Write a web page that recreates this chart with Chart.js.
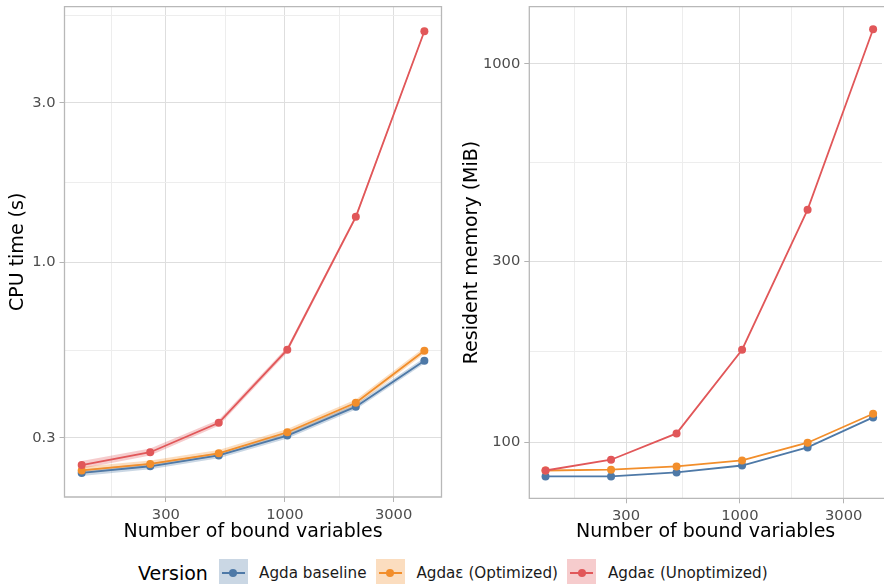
<!DOCTYPE html>
<html>
<head>
<meta charset="utf-8">
<script src="https://cdn.jsdelivr.net/npm/chart.js@4.4.0/dist/chart.umd.min.js"></script>
<style>
  html, body { margin: 0; padding: 0; background: #fff; overflow: hidden; }
  #wrap { position: relative; width: 886px; height: 584px; overflow: hidden; font-family: 'DejaVu Sans'; }
  #cpu { position: absolute; left: 0; top: 0; }
  #mem { position: absolute; left: 446px; top: 0; }
  #legend { position: absolute; left: 138px; top: 558.5px; height: 29px; display: flex; align-items: center; white-space: nowrap; }
  #legend .lt { font-size: 19px; margin-right: 10.7px; color: #000; }
  #legend .key { position: relative; width: 29px; height: 29px; flex: none; }
  #legend .key .ln { position: absolute; left: 3px; right: 3px; top: 13.6px; height: 1.8px; }
  #legend .key .dt { position: absolute; left: 10.5px; top: 10.5px; width: 8px; height: 8px; border-radius: 50%; }
  #legend .lab { font-size: 15.2px; margin-left: 11.5px; margin-right: 9.4px; color: #1a1a1a; }
</style>
</head>
<body>
<div id="wrap">
  <canvas id="cpu"></canvas>
  <canvas id="mem"></canvas>
  <div id="legend"></div>
</div>
<script>
// data
const nVars = [128, 256, 512, 1024, 2048, 4096];
const seriesNames = ['Agda baseline', 'Agdaε (Optimized)', 'Agdaε (Unoptimized)'];
const seriesColors = ['#4e79a7', '#f28e2b', '#e15759'];
const ribbonColors = ['rgba(78,121,167,0.3)', 'rgba(242,142,43,0.3)', 'rgba(225,87,89,0.3)'];

// CPU time (s)
const cpuBaseline   = [0.236, 0.247, 0.266, 0.305, 0.372, 0.510];
const cpuBaselineLo = [0.231, 0.242, 0.261, 0.299, 0.365, 0.500];
const cpuBaselineHi = [0.241, 0.252, 0.271, 0.311, 0.379, 0.520];
const cpuOpt        = [0.240, 0.251, 0.270, 0.312, 0.382, 0.546];
const cpuOptLo      = [0.235, 0.246, 0.265, 0.306, 0.374, 0.535];
const cpuOptHi      = [0.246, 0.257, 0.276, 0.319, 0.391, 0.558];
const cpuUnopt      = [0.249, 0.272, 0.333, 0.550, 1.37, 4.90];
const cpuUnoptLo    = [0.243, 0.266, 0.326, 0.540, 1.35, 4.85];
const cpuUnoptHi    = [0.256, 0.279, 0.340, 0.560, 1.39, 4.95];

// Resident memory (MiB)
const memBaseline = [81.1, 81.1, 83.1, 86.7, 96.8, 116.2];
const memOpt      = [84.1, 84.5, 86.2, 89.4, 99.6, 118.8];
const memUnopt    = [84.1, 89.8, 105.4, 175.5, 411.7, 1235];

// axis breaks
const xMajor = [300, 1000, 3000];
const xMajorLabels = ['300', '1000', '3000'];
const xMinor = [173.2, 547.7, 1732];
const cpuMajor = [0.3, 1, 3];
const cpuMajorLabels = ['0.3', '1.0', '3.0'];
const cpuMinor = [0.5477, 1.732, 5.477];
const memMajor = [100, 300, 1000];
const memMajorLabels = ['100', '300', '1000'];
const memMinor = [173.2, 547.7];

Chart.defaults.font.family = 'DejaVu Sans';

function pts(ys) {
    return nVars.map((x, i) => ({x: x, y: ys[i]}));
}

function breaks(major, labels, minor) {
    const list = major.map((v, i) => ({value: v, lbl: labels[i], major: true}));
    minor.forEach(v => list.push({value: v, lbl: '', major: false}));
    return list;
}

function logAxis(min, max, br, title, titlePad, fixSize, horizontal) {
    return {
        type: 'logarithmic',
        min: min,
        max: max,
        afterBuildTicks: (scale) => {
            scale.ticks = br.map(t => Object.assign({}, t));
        },
        afterFit: (scale) => {
            if (horizontal) scale.height = fixSize; else scale.width = fixSize;
            // no extra room for half labels at the ends
            scale.paddingTop = 0;
            scale.paddingBottom = 0;
            scale.paddingLeft = 0;
            scale.paddingRight = 0;
        },
        ticks: {
            autoSkip: false,
            maxRotation: 0,
            padding: 4,
            color: '#4d4d4d',
            font: {size: 14.7},
            callback: (v, i, ticks) => ticks[i].lbl,
        },
        grid: {
            color: (c) => (c.tick && c.tick.major) ? '#dedede' : '#ededed',
            lineWidth: 1,
            tickLength: 5,
            tickColor: (c) => (c.tick && c.tick.major) ? '#b3b3b3' : 'rgba(0,0,0,0)',
        },
        border: {display: false},
        title: {
            display: true,
            text: title,
            color: '#000',
            font: {size: 19, lineHeight: 1.2},
            padding: titlePad,
        },
    };
}

// grey frame round the plot area; the right side can be left open
function panelBorder(rightSide) {
    return {
        id: 'panelBorder',
        afterDraw(chart) {
            const {ctx, chartArea: a} = chart;
            ctx.save();
            ctx.strokeStyle = '#b8b8b8';
            ctx.lineWidth = 1.3;
            ctx.beginPath();
            if (rightSide) {
                ctx.rect(a.left, a.top, a.right - a.left, a.bottom - a.top);
            } else {
                ctx.moveTo(a.right + 2, a.top);
                ctx.lineTo(a.left, a.top);
                ctx.lineTo(a.left, a.bottom);
                ctx.lineTo(a.right + 2, a.bottom);
            }
            ctx.stroke();
            ctx.restore();
        }
    };
}

function lineSet(label, ys, k) {
    return {
        label: label,
        data: pts(ys),
        borderColor: seriesColors[k],
        backgroundColor: seriesColors[k],
        pointBackgroundColor: seriesColors[k],
        pointBorderWidth: 0,
        pointRadius: 4,
        borderWidth: 1.8,
        fill: false,
        order: 3 - k,
    };
}

function ribbonSets(lo, hi, k) {
    return [
        {label: 'lo' + k, data: pts(lo), borderWidth: 0, pointRadius: 0, borderColor: 'rgba(0,0,0,0)', fill: false, order: 10},
        {label: 'hi' + k, data: pts(hi), borderWidth: 0, pointRadius: 0, borderColor: 'rgba(0,0,0,0)',
         backgroundColor: ribbonColors[k], fill: '-1', order: 10},
    ];
}

function panel(id, w, h, datasets, yScale, xScale, padRight, rightSide) {
    const canvas = document.getElementById(id);
    canvas.width = w;
    canvas.height = h;
    canvas.style.width = w + 'px';
    canvas.style.height = h + 'px';
    return new Chart(canvas.getContext('2d'), {
        type: 'line',
        plugins: [panelBorder(rightSide)],
        data: {datasets: datasets},
        options: {
            responsive: false,
            animation: false,
            layout: {padding: {top: 6.7, right: padRight, left: 0, bottom: 0}},
            plugins: {legend: {display: false}, tooltip: {enabled: false}},
            scales: {x: xScale, y: yScale},
        }
    });
}

const cpuSets = []
    .concat(ribbonSets(cpuBaselineLo, cpuBaselineHi, 0))
    .concat(ribbonSets(cpuOptLo, cpuOptHi, 1))
    .concat(ribbonSets(cpuUnoptLo, cpuUnoptHi, 2))
    .concat([
        lineSet(seriesNames[0], cpuBaseline, 0),
        lineSet(seriesNames[1], cpuOpt, 1),
        lineSet(seriesNames[2], cpuUnopt, 2),
    ]);

panel('cpu', 446, 543, cpuSets,
    logAxis(0.2, 5.8, breaks(cpuMajor, cpuMajorLabels, cpuMinor), 'CPU time (s)', {top: 7, bottom: 0}, 64.5, false),
    logAxis(107.6, 4871, breaks(xMajor, xMajorLabels, xMinor), 'Number of bound variables', {top: 0, bottom: 0}, 46, true),
    4.5, true);

const memSets = [
    lineSet(seriesNames[0], memBaseline, 0),
    lineSet(seriesNames[1], memOpt, 1),
    lineSet(seriesNames[2], memUnopt, 2),
];

// the original picture cuts the right panel at the window edge
panel('mem', 440, 543, memSets,
    logAxis(71.0, 1417, breaks(memMajor, memMajorLabels, memMinor), 'Resident memory (MiB)', {top: 14.3, bottom: 0}, 83.3, false),
    logAxis(107.8, 4500, breaks(xMajor, xMajorLabels, xMinor), 'Number of bound variables', {top: 0, bottom: 0}, 44.7, true),
    0, false);

// legend
const legend = document.getElementById('legend');
let html = '<span class="lt">Version</span>';
seriesNames.forEach((name, k) => {
    html += '<span class="key" style="background:' + ribbonColors[k] + '">' +
        '<span class="ln" style="background:' + seriesColors[k] + '"></span>' +
        '<span class="dt" style="background:' + seriesColors[k] + '"></span></span>' +
        '<span class="lab">' + name + '</span>';
});
legend.innerHTML = html;
</script>
</body>
</html>
